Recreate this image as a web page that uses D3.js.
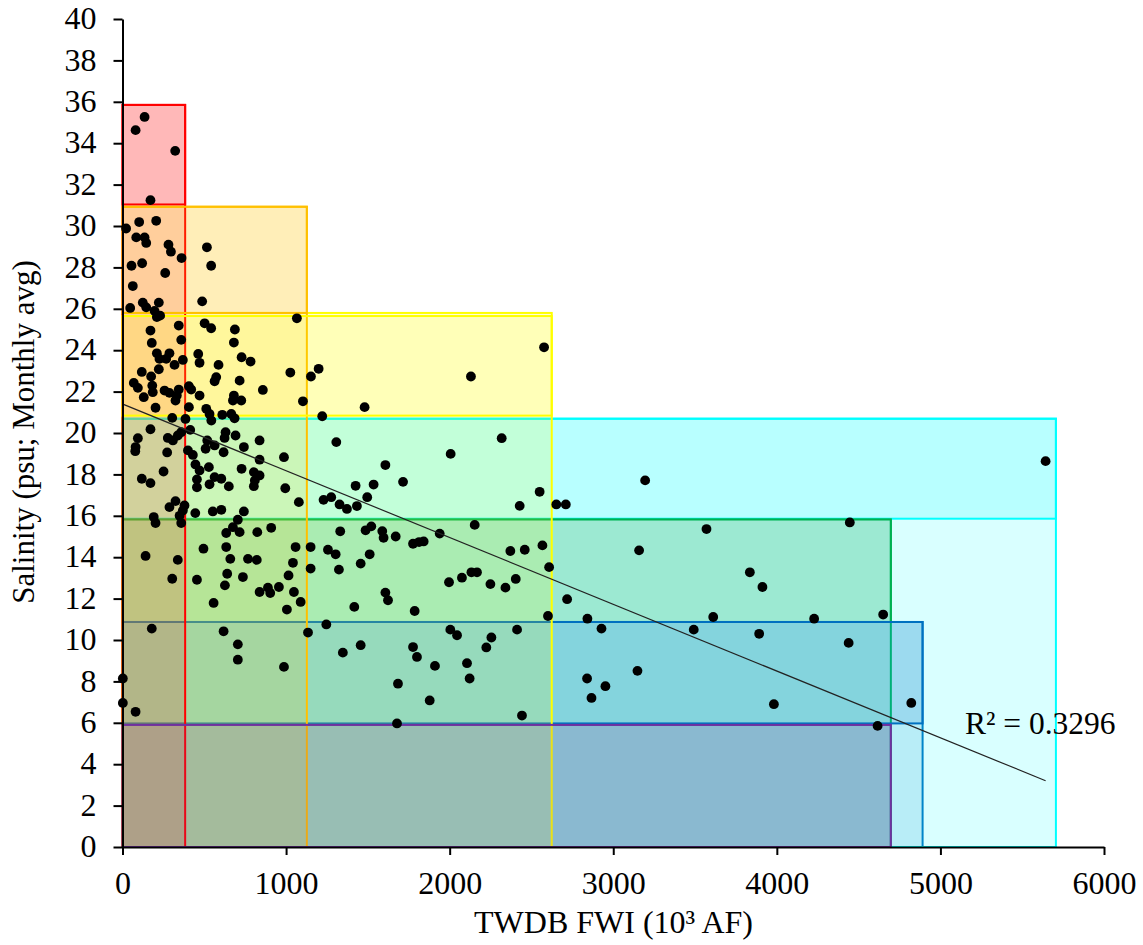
<!DOCTYPE html>
<html><head><meta charset="utf-8">
<script src="https://cdn.jsdelivr.net/npm/d3@7"></script>
<style>
body{margin:0;background:#fff}
svg{display:block}
text{font-family:"Liberation Serif","Times New Roman",serif;fill:#000}
</style>
</head><body>
<svg id="c" width="1143" height="945"></svg>
<script>
// ---- data ----
const xVals = [135,80,322,171,102,206,22,84,135,145,281,296,361,516,542,55,120,261,63,47,
124,145,196,222,210,230,487,502,542,687,1066,171,344,359,179,681,463,471,210,226,
287,267,318,369,728,783,587,118,175,222,1026,1152,1199,573,563,716,69,94,182,185,
257,287,332,344,130,202,324,406,420,471,858,681,675,726,1103,406,304,385,512,532,
543,610,665,685,1221,171,94,80,78,277,308,338,359,414,518,508,563,630,624,618,
691,742,838,838,987,1307,273,400,430,251,118,171,446,471,528,455,455,532,563,604,
650,728,803,838,809,803,995,1078,1229,1276,1327,1372,287,324,379,369,349,445,552,604,
742,191,202,359,705,675,634,716,824,909,1058,1150,1256,1303,1331,495,634,141,338,659,
767,821,1042,1150,1323,304,455,640,736,1015,626,838,889,903,956,1048,1089,1005,557,179,
618,1134,1246,1347,705,705,987,2,2,80,2577,2130,1480,2318,2006,1607,1425,1535,1715,1496,
1433,2428,2550,2652,2710,2153,1486,1521,1588,1596,1670,1939,1776,1813,1841,2371,2459,2567,1511,1456,
2608,1996,2075,2133,2167,2249,2341,2404,1607,1623,1417,1786,2601,2718,2842,2928,3158,3148,2004,2045,
2255,2224,2412,1456,1776,1800,1910,2106,2122,1684,1878,2840,2952,2867,2442,1678,3195,3570,4446,3835,
3912,3611,4228,4650,3492,3892,4439,3982,4822,4616,5643];
const yVals = [35.27,34.63,33.63,31.25,30.19,30.25,29.88,29.45,29.45,29.18,29.1,28.76,28.45,28.97,28.08,28.08,28.2,27.73,27.1,26.04,
26.3,26.07,25.9,26.3,25.6,25.67,26.36,25.3,25.06,25.0,25.54,24.95,25.19,24.5,24.35,24.37,23.82,23.39,23.85,23.58,
23.85,23.58,23.29,23.53,23.66,23.45,23.29,22.95,22.73,23.08,22.92,22.73,23.1,22.7,22.5,22.53,22.42,22.18,22.29,21.97,
22.05,21.94,21.81,22.1,21.73,21.22,21.57,22.26,22.1,21.81,22.08,21.81,21.57,21.57,21.53,21.25,20.73,20.68,21.17,20.92,
20.6,20.88,20.92,20.71,20.81,20.18,19.75,19.32,19.12,19.76,19.64,19.88,20.04,20.15,19.64,19.24,19.4,20.04,19.76,19.07,
19.88,19.32,19.64,18.71,18.83,19.56,19.06,19.16,18.94,18.14,17.79,17.58,18.48,18.19,18.35,17.76,17.38,17.52,17.87,17.79,
17.42,18.27,18.11,17.95,17.71,17.43,17.33,16.66,16.77,16.9,16.55,16.33,16.42,16.71,16.5,16.26,16.0,16.13,16.21,16.29,
16.21,15.94,15.65,15.65,15.81,15.45,15.17,15.21,15.21,15.42,14.49,14.49,14.36,14.14,15.25,14.41,14.49,14.06,13.87,13.92,
13.92,13.87,13.73,13.45,13.4,12.96,12.91,13.2,13.04,13.12,12.64,12.32,12.53,12.27,12.56,12.32,11.84,11.47,11.79,10.55,
10.42,10.36,10.75,9.39,9.79,9.05,8.7,8.14,6.96,6.53,24.14,22.73,21.25,19.75,18.99,18.45,17.45,17.51,17.64,16.9,
16.47,16.48,17.16,16.55,16.55,15.56,15.3,15.49,15.26,14.94,15.0,15.14,14.65,14.73,14.76,14.3,14.36,14.57,14.14,13.69,
13.52,12.79,13.01,13.27,13.27,12.7,12.53,12.95,12.29,11.92,11.6,11.4,11.16,11.97,11.03,10.55,14.33,8.51,10.5,10.23,
10.12,9.64,10.5,9.75,9.66,9.18,8.75,8.88,8.14,7.89,7.08,8.14,7.77,7.2,6.35,5.97,17.71,15.36,15.68,13.27,
12.56,11.11,11.03,11.23,10.5,10.3,9.86,6.9,6.96,5.85,18.64];

// salinity zones (x extent, full box top, band top & bottom)
const zoneNames  = ['red','orange','yellow','cyan','green','blue','purple'];
const zoneXMax   = [383, 1127, 2624, 5706, 4697, 4891, 4697];
const zoneTop    = [35.85, 30.93, 25.8, 20.69, 15.83, 10.87, 5.9];
const bandTop    = [35.85, 30.93, 25.65, 20.69, 15.83, 10.87, 5.9];
const bandBottom = [31.04, 25.8, 20.84, 15.86, 10.87, 5.97, 0];
const zoneColors = ['#ff0000','#ffc000','#ffff00','#00ffff','#00b050','#0070c0','#7030a0'];

const xTicks = [0,1000,2000,3000,4000,5000,6000];
const yTicks = [0,2,4,6,8,10,12,14,16,18,20,22,24,26,28,30,32,34,36,38,40];
const trendIntercept = 21.4;
const trendSlope = -0.003225;
const r2Label = 'R\u00B2 = 0.3296';
const xTitle = 'TWDB FWI (10\u00B3 AF)';
const yTitle = 'Salinity (psu; Monthly avg)';

// ---- drawing ----
const svg = d3.select('#c');
const L = 122.5, R = 1104, T = 19, B = 847;
const x = d3.scaleLinear().domain([0,6000]).range([L,R]);
const y = d3.scaleLinear().domain([0,40]).range([B,T]);

const zones = zoneNames.map((n,i)=>({n, xmax:zoneXMax[i], top:zoneTop[i], bt:bandTop[i], bb:bandBottom[i], c:zoneColors[i]}));
const byName = Object.fromEntries(zones.map(z=>[z.n,z]));

const gz = svg.append('g');
const OP = 0.15;
function fullBox(n){
  const z = byName[n];
  gz.append('rect').attr('x',x(0)).attr('y',y(z.top)).attr('width',x(z.xmax)-x(0)).attr('height',y(0)-y(z.top))
    .attr('fill',z.c).attr('fill-opacity',OP).attr('stroke',z.c).attr('stroke-width',2);
}
function band(n){
  const z = byName[n];
  gz.append('rect').attr('x',x(0)).attr('y',y(z.bt)).attr('width',x(z.xmax)-x(0)).attr('height',y(z.bb)-y(z.bt))
    .attr('fill',z.c).attr('fill-opacity',OP).attr('stroke',z.c).attr('stroke-width',2);
}
// stacking order of the overlays
['purple','blue','green','cyan'].forEach(fullBox);
['cyan','green','blue'].forEach(band);
['yellow','orange','red'].forEach(fullBox);
['red','orange','yellow','purple'].forEach(band);

// points
const pts = xVals.map((v,i)=>[v,yVals[i]]);
svg.append('g').selectAll('circle').data(pts).join('circle')
  .attr('cx',d=>x(d[0])).attr('cy',d=>y(d[1])).attr('r',4.9).attr('fill','#000');

// trendline
const x0 = d3.min(xVals), x1 = d3.max(xVals);
svg.append('line')
  .attr('x1',x(x0)).attr('y1',y(trendIntercept+trendSlope*x0))
  .attr('x2',x(x1)).attr('y2',y(trendIntercept+trendSlope*x1))
  .attr('stroke','#222').attr('stroke-width',1.2);

// axes
const ax = svg.append('g').attr('transform',`translate(0,${B})`)
  .call(d3.axisBottom(x).tickValues(xTicks).tickFormat(d3.format('d')).tickSize(8).tickSizeOuter(0).tickPadding(16));
ax.selectAll('text').attr('font-size',32).attr('font-family','"Liberation Serif",serif');
const ay = svg.append('g').attr('transform',`translate(${L},0)`)
  .call(d3.axisLeft(y).tickValues(yTicks).tickFormat(d3.format('d')).tickSize(9).tickSizeOuter(0).tickPadding(17));
ay.selectAll('text').attr('font-size',32).attr('font-family','"Liberation Serif",serif').attr('dy','0.3em');
[ax,ay].forEach(a=>{
  a.select('.domain').attr('stroke','#000').attr('stroke-width',2);
  a.selectAll('.tick line').attr('stroke','#000').attr('stroke-width',2);
});

// labels
svg.append('text').attr('x',965).attr('y',734).attr('font-size',31.5).text(r2Label);
svg.append('text').attr('x',613.5).attr('y',933).attr('text-anchor','middle').attr('font-size',32).text(xTitle);
svg.append('text').attr('transform','translate(34,432) rotate(-90)').attr('text-anchor','middle').attr('font-size',31).text(yTitle);
</script>
</body></html>
